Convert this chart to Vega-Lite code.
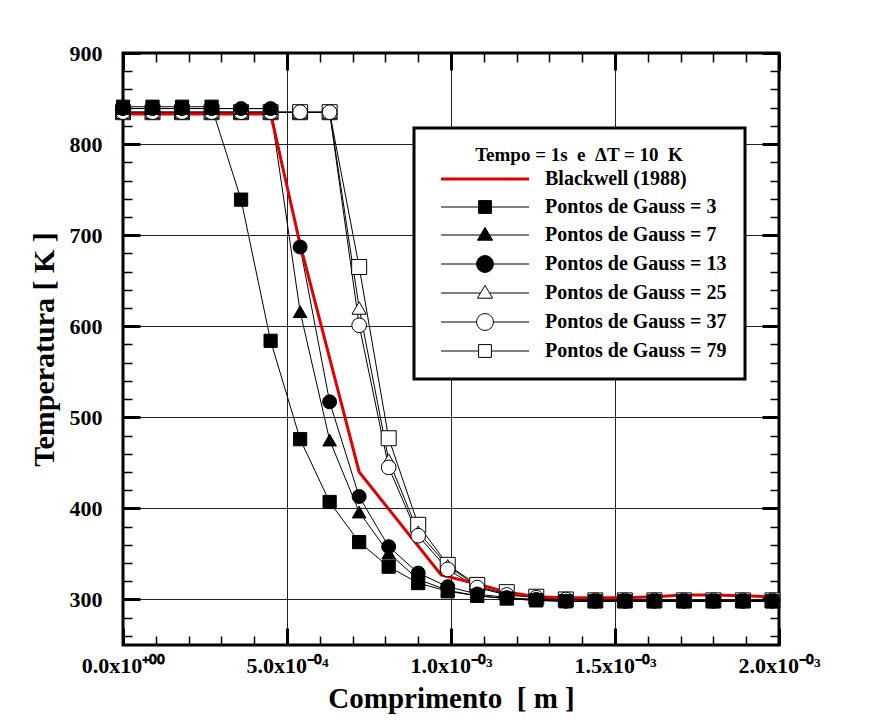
{
  "$schema": "https://vega.github.io/schema/vega-lite/v6.json",
  "width": 656,
  "height": 592,
  "autosize": {"type": "none"},
  "padding": {"left": 123, "top": 53, "right": 95, "bottom": 79},
  "background": "white",
  "config": {
    "font": "Liberation Serif",
    "view": {"stroke": "black", "strokeWidth": 3},
    "axis": {
      "labelFont": "Liberation Serif", "labelFontWeight": "bold", "labelColor": "black",
      "titleFont": "Liberation Serif", "titleFontWeight": "bold", "titleColor": "black",
      "domain": false, "tickColor": "black", "gridColor": "#222222", "gridWidth": 1,
      "labelOverlap": false, "labelFlush": false
    }
  },
  "data": {
    "values": [
      {"serie": "Blackwell (1988)", "x": 0, "T": 833},
      {"serie": "Blackwell (1988)", "x": 0.00045, "T": 833},
      {"serie": "Blackwell (1988)", "x": 0.00054, "T": 690},
      {"serie": "Blackwell (1988)", "x": 0.00063, "T": 565},
      {"serie": "Blackwell (1988)", "x": 0.00072, "T": 440},
      {"serie": "Blackwell (1988)", "x": 0.00097, "T": 327},
      {"serie": "Blackwell (1988)", "x": 0.00108, "T": 317},
      {"serie": "Blackwell (1988)", "x": 0.00117, "T": 308},
      {"serie": "Blackwell (1988)", "x": 0.00126, "T": 303},
      {"serie": "Blackwell (1988)", "x": 0.00135, "T": 302},
      {"serie": "Blackwell (1988)", "x": 0.00144, "T": 302},
      {"serie": "Blackwell (1988)", "x": 0.00153, "T": 302},
      {"serie": "Blackwell (1988)", "x": 0.00162, "T": 303},
      {"serie": "Blackwell (1988)", "x": 0.00171, "T": 305},
      {"serie": "Blackwell (1988)", "x": 0.0018, "T": 305},
      {"serie": "Blackwell (1988)", "x": 0.00189, "T": 304},
      {"serie": "Blackwell (1988)", "x": 0.00198, "T": 303},
      {"serie": "Blackwell (1988)", "x": 0.002, "T": 303},

      {"serie": "Pontos de Gauss = 79", "x": 0, "T": 835},
      {"serie": "Pontos de Gauss = 79", "x": 0.00009, "T": 835},
      {"serie": "Pontos de Gauss = 79", "x": 0.00018, "T": 835},
      {"serie": "Pontos de Gauss = 79", "x": 0.00027, "T": 835},
      {"serie": "Pontos de Gauss = 79", "x": 0.00036, "T": 835},
      {"serie": "Pontos de Gauss = 79", "x": 0.00045, "T": 835},
      {"serie": "Pontos de Gauss = 79", "x": 0.00054, "T": 835},
      {"serie": "Pontos de Gauss = 79", "x": 0.00063, "T": 835},
      {"serie": "Pontos de Gauss = 79", "x": 0.00072, "T": 665},
      {"serie": "Pontos de Gauss = 79", "x": 0.00081, "T": 477},
      {"serie": "Pontos de Gauss = 79", "x": 0.0009, "T": 382},
      {"serie": "Pontos de Gauss = 79", "x": 0.00099, "T": 338},
      {"serie": "Pontos de Gauss = 79", "x": 0.00108, "T": 316},
      {"serie": "Pontos de Gauss = 79", "x": 0.00117, "T": 308},
      {"serie": "Pontos de Gauss = 79", "x": 0.00126, "T": 303},
      {"serie": "Pontos de Gauss = 79", "x": 0.00135, "T": 300},
      {"serie": "Pontos de Gauss = 79", "x": 0.00144, "T": 299},
      {"serie": "Pontos de Gauss = 79", "x": 0.00153, "T": 299},
      {"serie": "Pontos de Gauss = 79", "x": 0.00162, "T": 299},
      {"serie": "Pontos de Gauss = 79", "x": 0.00171, "T": 299},
      {"serie": "Pontos de Gauss = 79", "x": 0.0018, "T": 299},
      {"serie": "Pontos de Gauss = 79", "x": 0.00189, "T": 299},
      {"serie": "Pontos de Gauss = 79", "x": 0.00198, "T": 299},

      {"serie": "Pontos de Gauss = 25", "x": 0, "T": 835},
      {"serie": "Pontos de Gauss = 25", "x": 0.00009, "T": 835},
      {"serie": "Pontos de Gauss = 25", "x": 0.00018, "T": 835},
      {"serie": "Pontos de Gauss = 25", "x": 0.00027, "T": 835},
      {"serie": "Pontos de Gauss = 25", "x": 0.00036, "T": 835},
      {"serie": "Pontos de Gauss = 25", "x": 0.00045, "T": 835},
      {"serie": "Pontos de Gauss = 25", "x": 0.00054, "T": 835},
      {"serie": "Pontos de Gauss = 25", "x": 0.00063, "T": 835},
      {"serie": "Pontos de Gauss = 25", "x": 0.00072, "T": 620},
      {"serie": "Pontos de Gauss = 25", "x": 0.00081, "T": 453},
      {"serie": "Pontos de Gauss = 25", "x": 0.0009, "T": 374},
      {"serie": "Pontos de Gauss = 25", "x": 0.00099, "T": 337},
      {"serie": "Pontos de Gauss = 25", "x": 0.00108, "T": 314},
      {"serie": "Pontos de Gauss = 25", "x": 0.00117, "T": 306},
      {"serie": "Pontos de Gauss = 25", "x": 0.00126, "T": 302},
      {"serie": "Pontos de Gauss = 25", "x": 0.00135, "T": 300},
      {"serie": "Pontos de Gauss = 25", "x": 0.00144, "T": 299},
      {"serie": "Pontos de Gauss = 25", "x": 0.00153, "T": 299},
      {"serie": "Pontos de Gauss = 25", "x": 0.00162, "T": 299},
      {"serie": "Pontos de Gauss = 25", "x": 0.00171, "T": 299},
      {"serie": "Pontos de Gauss = 25", "x": 0.0018, "T": 299},
      {"serie": "Pontos de Gauss = 25", "x": 0.00189, "T": 299},
      {"serie": "Pontos de Gauss = 25", "x": 0.00198, "T": 299},

      {"serie": "Pontos de Gauss = 37", "x": 0, "T": 835},
      {"serie": "Pontos de Gauss = 37", "x": 0.00009, "T": 835},
      {"serie": "Pontos de Gauss = 37", "x": 0.00018, "T": 835},
      {"serie": "Pontos de Gauss = 37", "x": 0.00027, "T": 835},
      {"serie": "Pontos de Gauss = 37", "x": 0.00036, "T": 835},
      {"serie": "Pontos de Gauss = 37", "x": 0.00045, "T": 835},
      {"serie": "Pontos de Gauss = 37", "x": 0.00054, "T": 835},
      {"serie": "Pontos de Gauss = 37", "x": 0.00063, "T": 835},
      {"serie": "Pontos de Gauss = 37", "x": 0.00072, "T": 601},
      {"serie": "Pontos de Gauss = 37", "x": 0.00081, "T": 445},
      {"serie": "Pontos de Gauss = 37", "x": 0.0009, "T": 370},
      {"serie": "Pontos de Gauss = 37", "x": 0.00099, "T": 333},
      {"serie": "Pontos de Gauss = 37", "x": 0.00108, "T": 313},
      {"serie": "Pontos de Gauss = 37", "x": 0.00117, "T": 305},
      {"serie": "Pontos de Gauss = 37", "x": 0.00126, "T": 302},
      {"serie": "Pontos de Gauss = 37", "x": 0.00135, "T": 300},
      {"serie": "Pontos de Gauss = 37", "x": 0.00144, "T": 299},
      {"serie": "Pontos de Gauss = 37", "x": 0.00153, "T": 299},
      {"serie": "Pontos de Gauss = 37", "x": 0.00162, "T": 299},
      {"serie": "Pontos de Gauss = 37", "x": 0.00171, "T": 299},
      {"serie": "Pontos de Gauss = 37", "x": 0.0018, "T": 299},
      {"serie": "Pontos de Gauss = 37", "x": 0.00189, "T": 299},
      {"serie": "Pontos de Gauss = 37", "x": 0.00198, "T": 299},

      {"serie": "Pontos de Gauss = 3", "x": 0, "T": 841},
      {"serie": "Pontos de Gauss = 3", "x": 0.00009, "T": 841},
      {"serie": "Pontos de Gauss = 3", "x": 0.00018, "T": 841},
      {"serie": "Pontos de Gauss = 3", "x": 0.00027, "T": 841},
      {"serie": "Pontos de Gauss = 3", "x": 0.00036, "T": 739},
      {"serie": "Pontos de Gauss = 3", "x": 0.00045, "T": 584},
      {"serie": "Pontos de Gauss = 3", "x": 0.00054, "T": 476},
      {"serie": "Pontos de Gauss = 3", "x": 0.00063, "T": 407},
      {"serie": "Pontos de Gauss = 3", "x": 0.00072, "T": 363},
      {"serie": "Pontos de Gauss = 3", "x": 0.00081, "T": 336},
      {"serie": "Pontos de Gauss = 3", "x": 0.0009, "T": 318},
      {"serie": "Pontos de Gauss = 3", "x": 0.00099, "T": 309},
      {"serie": "Pontos de Gauss = 3", "x": 0.00108, "T": 304},
      {"serie": "Pontos de Gauss = 3", "x": 0.00117, "T": 301},
      {"serie": "Pontos de Gauss = 3", "x": 0.00126, "T": 299},
      {"serie": "Pontos de Gauss = 3", "x": 0.00135, "T": 298},
      {"serie": "Pontos de Gauss = 3", "x": 0.00144, "T": 298},
      {"serie": "Pontos de Gauss = 3", "x": 0.00153, "T": 298},
      {"serie": "Pontos de Gauss = 3", "x": 0.00162, "T": 298},
      {"serie": "Pontos de Gauss = 3", "x": 0.00171, "T": 298},
      {"serie": "Pontos de Gauss = 3", "x": 0.0018, "T": 298},
      {"serie": "Pontos de Gauss = 3", "x": 0.00189, "T": 298},
      {"serie": "Pontos de Gauss = 3", "x": 0.00198, "T": 298},

      {"serie": "Pontos de Gauss = 7", "x": 0, "T": 839},
      {"serie": "Pontos de Gauss = 7", "x": 0.00009, "T": 839},
      {"serie": "Pontos de Gauss = 7", "x": 0.00018, "T": 839},
      {"serie": "Pontos de Gauss = 7", "x": 0.00027, "T": 839},
      {"serie": "Pontos de Gauss = 7", "x": 0.00036, "T": 839},
      {"serie": "Pontos de Gauss = 7", "x": 0.00045, "T": 839},
      {"serie": "Pontos de Gauss = 7", "x": 0.00054, "T": 616},
      {"serie": "Pontos de Gauss = 7", "x": 0.00063, "T": 475},
      {"serie": "Pontos de Gauss = 7", "x": 0.00072, "T": 396},
      {"serie": "Pontos de Gauss = 7", "x": 0.00081, "T": 351},
      {"serie": "Pontos de Gauss = 7", "x": 0.0009, "T": 322},
      {"serie": "Pontos de Gauss = 7", "x": 0.00099, "T": 310},
      {"serie": "Pontos de Gauss = 7", "x": 0.00108, "T": 304},
      {"serie": "Pontos de Gauss = 7", "x": 0.00117, "T": 301},
      {"serie": "Pontos de Gauss = 7", "x": 0.00126, "T": 299},
      {"serie": "Pontos de Gauss = 7", "x": 0.00135, "T": 298},
      {"serie": "Pontos de Gauss = 7", "x": 0.00144, "T": 298},
      {"serie": "Pontos de Gauss = 7", "x": 0.00153, "T": 298},
      {"serie": "Pontos de Gauss = 7", "x": 0.00162, "T": 298},
      {"serie": "Pontos de Gauss = 7", "x": 0.00171, "T": 298},
      {"serie": "Pontos de Gauss = 7", "x": 0.0018, "T": 298},
      {"serie": "Pontos de Gauss = 7", "x": 0.00189, "T": 298},
      {"serie": "Pontos de Gauss = 7", "x": 0.00198, "T": 298},

      {"serie": "Pontos de Gauss = 13", "x": 0, "T": 839},
      {"serie": "Pontos de Gauss = 13", "x": 0.00009, "T": 839},
      {"serie": "Pontos de Gauss = 13", "x": 0.00018, "T": 839},
      {"serie": "Pontos de Gauss = 13", "x": 0.00027, "T": 839},
      {"serie": "Pontos de Gauss = 13", "x": 0.00036, "T": 839},
      {"serie": "Pontos de Gauss = 13", "x": 0.00045, "T": 839},
      {"serie": "Pontos de Gauss = 13", "x": 0.00054, "T": 687},
      {"serie": "Pontos de Gauss = 13", "x": 0.00063, "T": 517},
      {"serie": "Pontos de Gauss = 13", "x": 0.00072, "T": 413},
      {"serie": "Pontos de Gauss = 13", "x": 0.00081, "T": 358},
      {"serie": "Pontos de Gauss = 13", "x": 0.0009, "T": 329},
      {"serie": "Pontos de Gauss = 13", "x": 0.00099, "T": 314},
      {"serie": "Pontos de Gauss = 13", "x": 0.00108, "T": 306},
      {"serie": "Pontos de Gauss = 13", "x": 0.00117, "T": 302},
      {"serie": "Pontos de Gauss = 13", "x": 0.00126, "T": 300},
      {"serie": "Pontos de Gauss = 13", "x": 0.00135, "T": 298},
      {"serie": "Pontos de Gauss = 13", "x": 0.00144, "T": 298},
      {"serie": "Pontos de Gauss = 13", "x": 0.00153, "T": 298},
      {"serie": "Pontos de Gauss = 13", "x": 0.00162, "T": 298},
      {"serie": "Pontos de Gauss = 13", "x": 0.00171, "T": 298},
      {"serie": "Pontos de Gauss = 13", "x": 0.0018, "T": 298},
      {"serie": "Pontos de Gauss = 13", "x": 0.00189, "T": 298},
      {"serie": "Pontos de Gauss = 13", "x": 0.00198, "T": 298}
    ]
  },
  "layer": [
    {
      "transform": [{"filter": "datum.serie !== 'Blackwell (1988)'"}],
      "mark": {"type": "line", "strokeWidth": 1, "clip": true},
      "encoding": {
        "x": {
          "field": "x", "type": "quantitative",
          "scale": {"domain": [0, 0.002], "nice": false, "zero": false},
          "axis": {
            "orient": "bottom",
            "values": [0, 0.0001, 0.0002, 0.0003, 0.0004, 0.0005, 0.0006, 0.0007, 0.0008, 0.0009, 0.001, 0.0011, 0.0012, 0.0013, 0.0014, 0.0015, 0.0016, 0.0017, 0.0018, 0.0019, 0.002],
            "title": "Comprimento\u00a0 [ m ]",
            "titleFontSize": 29, "titlePadding": 0,
            "labelFontSize": 22, "labelPadding": 27,
            "labelExpr": "abs(datum.value) < 1e-9 ? '0.0x10\u207a\u2070\u2070' : abs(datum.value - 0.0005) < 1e-9 ? '5.0x10\u207b\u2070\u2074' : abs(datum.value - 0.001) < 1e-9 ? '1.0x10\u207b\u2070\u00b3' : abs(datum.value - 0.0015) < 1e-9 ? '1.5x10\u207b\u2070\u00b3' : abs(datum.value - 0.002) < 1e-9 ? '2.0x10\u207b\u2070\u00b3' : ''",
            "tickSize": {"condition": {"test": "abs(datum.value * 2000 - round(datum.value * 2000)) < 0.01", "value": -17}, "value": -9},
            "tickWidth": {"condition": {"test": "abs(datum.value * 2000 - round(datum.value * 2000)) < 0.01", "value": 3}, "value": 1.5},
            "grid": true,
            "gridOpacity": {"condition": {"test": "abs(datum.value * 2000 - round(datum.value * 2000)) < 0.01 && datum.value > 0.0001 && datum.value < 0.0019", "value": 1}, "value": 0}
          }
        },
        "y": {
          "field": "T", "type": "quantitative",
          "scale": {"domain": [250, 900], "nice": false, "zero": false},
          "axis": {
            "orient": "left",
            "values": [260, 280, 300, 320, 340, 360, 380, 400, 420, 440, 460, 480, 500, 520, 540, 560, 580, 600, 620, 640, 660, 680, 700, 720, 740, 760, 780, 800, 820, 840, 860, 880, 900],
            "title": "Temperatura [ K ]",
            "titleFontSize": 30, "titlePadding": 10,
            "labelFontSize": 22, "labelPadding": 38,
            "labelExpr": "datum.value % 100 === 0 ? datum.label : ''",
            "tickSize": {"condition": {"test": "datum.value % 100 === 0", "value": -17}, "value": -9},
            "tickWidth": {"condition": {"test": "datum.value % 100 === 0", "value": 3}, "value": 1.5},
            "grid": true,
            "gridOpacity": {"condition": {"test": "datum.value % 100 === 0 && datum.value < 900", "value": 1}, "value": 0}
          }
        },
        "color": {
          "field": "serie", "type": "nominal",
          "scale": {
            "domain": ["Blackwell (1988)", "Pontos de Gauss = 3", "Pontos de Gauss = 7", "Pontos de Gauss = 13", "Pontos de Gauss = 25", "Pontos de Gauss = 37", "Pontos de Gauss = 79"],
            "range": ["#dd0000", "black", "black", "black", "black", "black", "black"]
          },
          "legend": {
            "orient": "none", "legendX": 291, "legendY": 75,
            "title": "Tempo = 1s\u00a0 e\u00a0 \u0394T = 10\u00a0 K",
            "titleFont": "Liberation Serif", "titleFontSize": 19, "titleFontWeight": "bold", "titleColor": "black",
            "titleAnchor": "middle", "titlePadding": 4, "titleLimit": 500,
            "labelFont": "Liberation Serif", "labelFontSize": 20, "labelFontWeight": "bold", "labelColor": "black", "labelLimit": 400,
            "padding": 18, "strokeColor": "black", "fillColor": "white",
            "symbolSize": 256, "symbolOffset": 43, "labelOffset": 50, "rowPadding": 8,
            "encoding": {
              "legend": {"strokeWidth": {"value": 3}},
              "symbols": {
                "size": {"value": 256},
                "opacity": {"value": 1},
                "shape": {"value": {"expr": "datum.value === 'Blackwell (1988)' ? 'M-5.5,0H5.5' : datum.value === 'Pontos de Gauss = 3' ? 'M-5.5,0H-0.8M0.8,0H5.5M-0.8,-0.8H0.8V0.8H-0.8Z' : datum.value === 'Pontos de Gauss = 7' ? 'M-5.5,0H5.5M0,-0.95L0.95,0.65L-0.95,0.65Z' : datum.value === 'Pontos de Gauss = 13' ? 'M-5.5,0H5.5M-1.05,0A1.05,1.05,0,1,0,1.05,0A1.05,1.05,0,1,0,-1.05,0Z' : datum.value === 'Pontos de Gauss = 25' ? 'M-5.5,0H-0.56M0.56,0H5.5M0,-0.95L0.95,0.65L-0.95,0.65Z' : datum.value === 'Pontos de Gauss = 37' ? 'M-5.5,0H-1.05M1.05,0H5.5M-1.05,0A1.05,1.05,0,1,0,1.05,0A1.05,1.05,0,1,0,-1.05,0Z' : 'M-5.5,0H-0.8M0.8,0H5.5M-0.8,-0.8H0.8V0.8H-0.8Z'"}},
                "fill": {"value": {"expr": "datum.value === 'Blackwell (1988)' ? 'transparent' : (datum.value === 'Pontos de Gauss = 3' || datum.value === 'Pontos de Gauss = 7' || datum.value === 'Pontos de Gauss = 13') ? 'black' : 'white'"}},
                "stroke": {"value": {"expr": "datum.value === 'Blackwell (1988)' ? '#dd0000' : 'black'"}},
                "strokeWidth": {"value": {"expr": "datum.value === 'Blackwell (1988)' ? 3 : 1"}}
              }
            }
          }
        }
      }
    },
    {
      "transform": [{"filter": "datum.serie === 'Blackwell (1988)'"}],
      "mark": {"type": "line", "color": "#dd0000", "strokeWidth": 3, "clip": true},
      "encoding": {
        "x": {"field": "x", "type": "quantitative", "axis": null},
        "y": {"field": "T", "type": "quantitative", "axis": null}
      }
    },
    {
      "transform": [{"filter": "datum.serie !== 'Blackwell (1988)'"}],
      "mark": {"type": "point", "stroke": "black", "strokeWidth": 1, "opacity": 1, "filled": false},
      "encoding": {
        "x": {
          "field": "x", "type": "quantitative",
          "axis": {
            "orient": "top", "title": null, "labels": false, "grid": false,
            "values": [0, 0.0001, 0.0002, 0.0003, 0.0004, 0.0005, 0.0006, 0.0007, 0.0008, 0.0009, 0.001, 0.0011, 0.0012, 0.0013, 0.0014, 0.0015, 0.0016, 0.0017, 0.0018, 0.0019, 0.002],
            "tickSize": {"condition": {"test": "abs(datum.value * 2000 - round(datum.value * 2000)) < 0.01", "value": -17}, "value": -9},
            "tickWidth": {"condition": {"test": "abs(datum.value * 2000 - round(datum.value * 2000)) < 0.01", "value": 3}, "value": 1.5}
          }
        },
        "y": {
          "field": "T", "type": "quantitative",
          "axis": {
            "orient": "right", "title": null, "labels": false, "grid": false,
            "values": [260, 280, 300, 320, 340, 360, 380, 400, 420, 440, 460, 480, 500, 520, 540, 560, 580, 600, 620, 640, 660, 680, 700, 720, 740, 760, 780, 800, 820, 840, 860, 880, 900],
            "tickSize": {"condition": {"test": "datum.value % 100 === 0", "value": -17}, "value": -9},
            "tickWidth": {"condition": {"test": "datum.value % 100 === 0", "value": 3}, "value": 1.5}
          }
        },
        "shape": {
          "field": "serie", "type": "nominal", "legend": null,
          "scale": {
            "domain": ["Pontos de Gauss = 3", "Pontos de Gauss = 7", "Pontos de Gauss = 13", "Pontos de Gauss = 25", "Pontos de Gauss = 37", "Pontos de Gauss = 79"],
            "range": ["square", "triangle-up", "circle", "triangle-up", "circle", "square"]
          }
        },
        "fill": {
          "field": "serie", "type": "nominal", "legend": null,
          "scale": {
            "domain": ["Pontos de Gauss = 3", "Pontos de Gauss = 7", "Pontos de Gauss = 13", "Pontos de Gauss = 25", "Pontos de Gauss = 37", "Pontos de Gauss = 79"],
            "range": ["black", "black", "black", "white", "white", "white"]
          }
        },
        "size": {
          "field": "serie", "type": "nominal", "legend": null,
          "scale": {
            "domain": ["Pontos de Gauss = 3", "Pontos de Gauss = 7", "Pontos de Gauss = 13", "Pontos de Gauss = 25", "Pontos de Gauss = 37", "Pontos de Gauss = 79"],
            "range": [175, 225, 290, 240, 320, 175]
          }
        }
      }
    }
  ],
  "resolve": {"axis": {"x": "independent", "y": "independent"}}
}
